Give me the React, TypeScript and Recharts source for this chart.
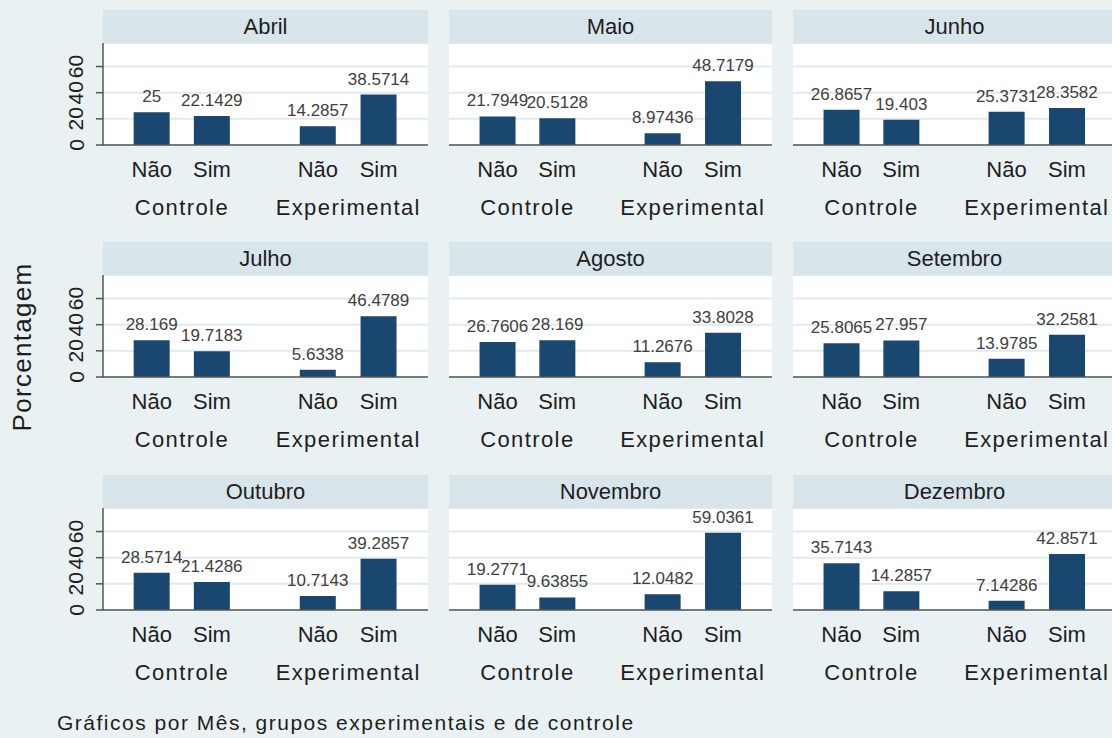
import React from "react";
import { BarChart, Bar, XAxis, YAxis, CartesianGrid, LabelList } from "recharts";

const meses = ["Abril", "Maio", "Junho", "Julho", "Agosto", "Setembro", "Outubro", "Novembro", "Dezembro"];
const controleNao = [25, 21.7949, 26.8657, 28.169, 26.7606, 25.8065, 28.5714, 19.2771, 35.7143];
const controleSim = [22.1429, 20.5128, 19.403, 19.7183, 28.169, 27.957, 21.4286, 9.63855, 14.2857];
const experimentalNao = [14.2857, 8.97436, 25.3731, 5.6338, 11.2676, 13.9785, 10.7143, 12.0482, 7.14286];
const experimentalSim = [38.5714, 48.7179, 28.3582, 46.4789, 33.8028, 32.2581, 39.2857, 59.0361, 42.8571];
const respostas = ["Não", "Sim", "Não", "Sim"];
const grupos = ["Controle", "Experimental"];
const posicoes = [0.81, 1.81, 3.57, 4.58];
const posicoesGrupo = [1.31, 4.075];
const yTicks = [0, 20, 40, 60];

// layout (px)
const colLeft = [103, 449, 793];
const plotW = [325, 323, 323];
const rowTop = [10, 242, 475];
const HEADER = 33;
const PLOT = 102;
const FONT = "'Liberation Sans', Arial, sans-serif";
const NAVY = "#1a476f";

function RespTick(props: any) {
  const { x, y, payload } = props;
  let k = posicoes.indexOf(payload.value);
  if (k < 0) k = payload.index ?? 0;
  return (
    <text x={x} y={y + 24} textAnchor="middle" dominantBaseline="central" fontSize={22} fill="#1e1e1e" fontFamily={FONT}>
      {respostas[k]}
    </text>
  );
}

function GrupoTick(props: any) {
  const { x, y, payload } = props;
  let k = posicoesGrupo.indexOf(payload.value);
  if (k < 0) k = payload.index ?? 0;
  return (
    <text x={x} y={y + 22} textAnchor="middle" dominantBaseline="central" fontSize={22} letterSpacing={1.4} fill="#1e1e1e" fontFamily={FONT}>
      {grupos[k]}
    </text>
  );
}

function YTick(props: any) {
  const { x, y, payload } = props;
  const cx = x - 18;
  return (
    <text x={cx} y={y} transform={`rotate(-90, ${cx}, ${y})`} textAnchor="middle" dominantBaseline="central" fontSize={21} fill="#1e1e1e" fontFamily={FONT}>
      {payload.value}
    </text>
  );
}

function Painel({ i }: { i: number }) {
  const col = i % 3;
  const row = Math.floor(i / 3);
  const eixo = col === 0 ? 103 : 0;
  const w = plotW[col];
  const series = [controleNao, controleSim, experimentalNao, experimentalSim];
  const dados = posicoes.map((x, k) => ({ x, v: series[k][i] }));

  return (
    <>
      <div style={{ position: "absolute", left: colLeft[col] - eixo, top: rowTop[row] }}>
        <BarChart
          width={w + eixo}
          height={HEADER + PLOT + 80}
          data={dados}
          margin={{ top: HEADER, right: 0, left: 0, bottom: 0 }}
        >
          <CartesianGrid xAxisId="a" vertical={false} fill="#ffffff" stroke="#e1eaee" strokeWidth={2} />
          <XAxis
            xAxisId="a"
            type="number"
            dataKey="x"
            domain={[0, 5.4]}
            ticks={posicoes}
            interval={0}
            height={40}
            tickLine={false}
            tickSize={0}
            tickMargin={0}
            axisLine={{ stroke: "#555", strokeWidth: 1.5 }}
            tick={<RespTick />}
          />
          <XAxis
            xAxisId="b"
            type="number"
            dataKey="x"
            domain={[0, 5.4]}
            ticks={posicoesGrupo}
            interval={0}
            height={40}
            tickLine={false}
            tickSize={0}
            tickMargin={0}
            axisLine={false}
            tick={<GrupoTick />}
          />
          <YAxis
            domain={[0, 78]}
            ticks={yTicks}
            interval={0}
            hide={col !== 0}
            width={eixo}
            tickSize={7}
            tickMargin={2}
            axisLine={{ stroke: "#555", strokeWidth: 1.5 }}
            tickLine={{ stroke: "#555", strokeWidth: 1.5 }}
            tick={<YTick />}
          />
          <Bar xAxisId="a" dataKey="v" fill={NAVY} barSize={36} isAnimationActive={false}>
            <LabelList
              dataKey="v"
              position="top"
              offset={10}
              fontSize={17}
              fill="#404040"
              fontFamily={FONT}
              formatter={(v: any) => String(v)}
            />
          </Bar>
        </BarChart>
      </div>
      <div
        style={{
          position: "absolute",
          left: colLeft[col],
          top: rowTop[row],
          width: w,
          height: HEADER,
          background: "#d8e5eb",
          textAlign: "center",
          lineHeight: `${HEADER}px`,
          fontSize: 22,
          color: "#1e1e1e",
        }}
      >
        {meses[i]}
      </div>
    </>
  );
}

export default function App() {
  return (
    <div
      style={{
        position: "absolute",
        left: 0,
        top: 0,
        width: 1112,
        height: 738,
        overflow: "hidden",
        background: "#e9f1f3",
        fontFamily: FONT,
      }}
    >
      {meses.map((_, i) => (
        <Painel key={i} i={i} />
      ))}
      <div
        style={{
          position: "absolute",
          left: -78,
          top: 332,
          width: 200,
          height: 30,
          lineHeight: "30px",
          textAlign: "center",
          fontSize: 26,
          letterSpacing: 1.3,
          color: "#1e1e1e",
          transform: "rotate(-90deg)",
        }}
      >
        Porcentagem
      </div>
      <div
        style={{
          position: "absolute",
          left: 57,
          top: 711,
          lineHeight: "24px",
          fontSize: 21,
          letterSpacing: 1.5,
          color: "#1e1e1e",
          whiteSpace: "nowrap",
        }}
      >
        Gráficos por Mês, grupos experimentais e de controle
      </div>
    </div>
  );
}
